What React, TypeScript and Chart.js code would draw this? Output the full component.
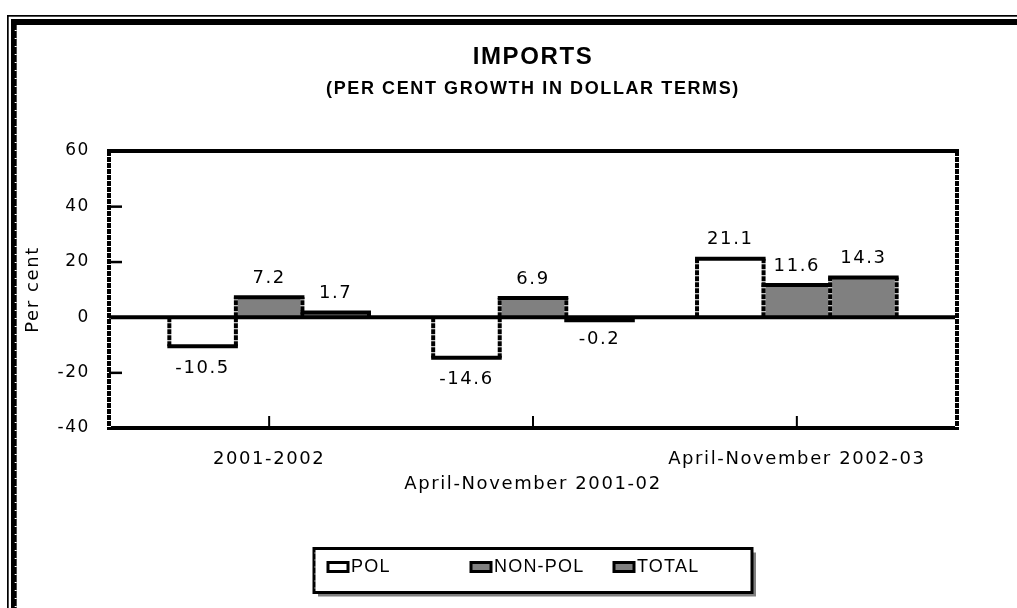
import React, { useEffect, useRef } from 'react';
import { Chart, registerables } from 'chart.js';

Chart.register(...registerables);

// ---- data ----
const categories = ['2001-2002', 'April-November 2001-02', 'April-November 2002-03'];
const seriesLabels = ['POL', 'NON-POL', 'TOTAL'];
const polValues = [-10.5, -14.6, 21.1];
const nonPolValues = [7.2, 6.9, 11.6];
const totalValues = [1.7, -0.2, 14.3];
const yTickValues = [-40, -20, 0, 20, 40, 60];

const SPACING = '1.6px';
const NUM_FONT = "'DejaVu Sans', Verdana, sans-serif";
const TITLE_FONT = "'Liberation Sans', Arial, sans-serif";
const GRAY = '#808080';

const toPoints = (vals: number[]) => vals.map((v, i) => ({ x: i, y: v }));

const decorPlugin: any = {
  id: 'decor',
  beforeUpdate(chart: any) {
    chart.ctx.letterSpacing = SPACING;
  },
  beforeDraw(chart: any) {
    const ctx = chart.ctx;
    ctx.letterSpacing = SPACING;
    ctx.save();
    ctx.fillStyle = '#fff';
    ctx.fillRect(0, 0, chart.width, chart.height);
    ctx.restore();
  },
  afterDatasetsDraw(chart: any) {
    const ctx = chart.ctx;
    const a = chart.chartArea;
    const xs = chart.scales.x;
    const ys = chart.scales.y;
    ctx.save();
    const vline = (x: number, y0: number, y1: number, w: number) => {
      ctx.lineWidth = w;
      ctx.setLineDash([]);
      ctx.strokeStyle = '#fff';
      ctx.beginPath(); ctx.moveTo(x, y0); ctx.lineTo(x, y1); ctx.stroke();
      ctx.setLineDash([5, 1]);
      ctx.strokeStyle = '#000';
      ctx.beginPath(); ctx.moveTo(x, y0); ctx.lineTo(x, y1); ctx.stroke();
      ctx.setLineDash([]);
    };
    const els: any[] = [];
    chart.data.datasets.forEach((ds: any, di: number) => {
      const meta = chart.getDatasetMeta(di);
      meta.data.forEach((el: any, j: number) => {
        const p = el.getProps(['x', 'y', 'base', 'width'], true);
        els.push({ ...p, value: ds.data[j].y });
      });
    });
    // vertical sides first
    els.forEach((p) => {
      const l = p.x - p.width / 2;
      const r = p.x + p.width / 2;
      vline(l, p.base, p.y, 4);
      vline(r, p.base, p.y, 4);
    });
    // horizontal ends
    ctx.strokeStyle = '#000';
    ctx.lineWidth = 4;
    els.forEach((p) => {
      const l = p.x - p.width / 2;
      const r = p.x + p.width / 2;
      const yy = p.value < 0 && p.y - p.base < 3 ? p.base + 3 : p.y;
      ctx.beginPath(); ctx.moveTo(l - 2, yy); ctx.lineTo(r + 2, yy); ctx.stroke();
    });
    // zero line
    const y0 = ys.getPixelForValue(0);
    ctx.beginPath(); ctx.moveTo(a.left, y0); ctx.lineTo(a.right, y0); ctx.stroke();
    // plot frame
    ctx.beginPath(); ctx.moveTo(a.left - 2, a.top); ctx.lineTo(a.right + 2, a.top); ctx.stroke();
    ctx.beginPath(); ctx.moveTo(a.left - 2, a.bottom); ctx.lineTo(a.right + 2, a.bottom); ctx.stroke();
    vline(a.left, a.top, a.bottom, 4);
    vline(a.right, a.top, a.bottom, 4);
    // inward tick marks
    ctx.fillStyle = '#000';
    yTickValues.forEach((v) => {
      const py = ys.getPixelForValue(v);
      ctx.fillRect(a.left, py - 1, 13, 2.5);
    });
    categories.forEach((_, i) => {
      const px = xs.getPixelForValue(i);
      ctx.fillRect(px - 1, a.bottom - 12, 2, 12);
    });
    // data labels
    ctx.letterSpacing = SPACING;
    ctx.font = `18px ${NUM_FONT}`;
    ctx.textAlign = 'center';
    ctx.textBaseline = 'middle';
    ctx.fillStyle = '#000';
    els.forEach((p) => {
      const ty = p.value >= 0 ? p.y - 19 : p.y + 22;
      ctx.fillText(p.value.toFixed(1), p.x, ty);
    });
    ctx.restore();
  },
  afterDraw(chart: any) {
    const ctx = chart.ctx;
    const a = chart.chartArea;
    const W = chart.width;
    const H = chart.height;
    ctx.save();
    // outer frame (top & left)
    ctx.fillStyle = '#000';
    ctx.fillRect(7, 15, W - 7, 1.7);
    ctx.fillRect(7, 15, 1.7, H - 15);
    ctx.fillRect(11, 19, W - 11, 6);
    ctx.fillRect(11, 19, 5.7, H - 19);
    ctx.fillStyle = '#fff';
    for (let yy = 30; yy < H; yy += 8) ctx.fillRect(14.7, yy, 2, 1);

    // legend
    const cx = (a.left + a.right) / 2;
    const bw = 438;
    const bh = 44;
    const bl = cx - 219;
    const bt = a.bottom + 120.5;
    ctx.fillStyle = GRAY;
    ctx.fillRect(bl + 4, bt + 4, bw, bh);
    ctx.fillStyle = '#fff';
    ctx.fillRect(bl, bt, bw, bh);
    ctx.strokeStyle = '#000';
    ctx.lineWidth = 3;
    ctx.strokeRect(bl, bt, bw, bh);
    ctx.strokeStyle = '#fff';
    ctx.lineWidth = 1;
    ctx.setLineDash([1, 6]);
    ctx.beginPath(); ctx.moveTo(bl + 1, bt + 4); ctx.lineTo(bl + 1, bt + bh - 2); ctx.stroke();
    ctx.setLineDash([]);

    ctx.letterSpacing = '1.2px';
    ctx.font = `18px ${TITLE_FONT}`;
    ctx.textAlign = 'left';
    ctx.textBaseline = 'middle';
    const cy = bt + 18.5;
    chart.data.datasets.forEach((ds: any, i: number) => {
      const sx = bl + 14 + i * 143;
      ctx.fillStyle = ds.backgroundColor;
      ctx.fillRect(sx, cy - 4.5, 20, 9);
      ctx.strokeStyle = '#000';
      ctx.lineWidth = 3;
      ctx.strokeRect(sx, cy - 4.5, 20, 9);
      ctx.fillStyle = '#000';
      ctx.fillText(ds.label, sx + 23, cy + 0.5);
    });
    ctx.restore();
  },
};

export default function App() {
  const ref = useRef<HTMLCanvasElement>(null);
  useEffect(() => {
    document.body.style.margin = '0';
    const canvas = ref.current;
    if (!canvas) return;
    const chart = new Chart(canvas, {
      type: 'bar',
      data: {
        datasets: [
          { label: seriesLabels[0], data: toPoints(polValues), backgroundColor: '#ffffff', borderWidth: 0 },
          { label: seriesLabels[1], data: toPoints(nonPolValues), backgroundColor: GRAY, borderWidth: 0 },
          { label: seriesLabels[2], data: toPoints(totalValues), backgroundColor: GRAY, borderWidth: 0 },
        ] as any,
      },
      options: {
        responsive: false,
        animation: false,
        devicePixelRatio: 1,
        categoryPercentage: 0.7566,
        barPercentage: 1,
        layout: { padding: { left: 20, right: 60, top: 26, bottom: 0 } },
        plugins: {
          legend: { display: false },
          tooltip: { enabled: false },
          title: {
            display: true,
            text: 'IMPORTS',
            fullSize: false,
            color: '#000',
            font: { family: TITLE_FONT, size: 24, weight: 'bold', lineHeight: 1.2 },
            padding: { top: 17, bottom: 3 },
          },
          subtitle: {
            display: true,
            text: '(PER CENT GROWTH IN DOLLAR TERMS)',
            fullSize: false,
            color: '#000',
            font: { family: TITLE_FONT, size: 18, weight: 'bold', lineHeight: 1.2 },
            padding: { top: 3.4, bottom: 51.2 },
          },
        },
        scales: {
          x: {
            type: 'linear',
            offset: false,
            min: -0.607,
            max: 2.607,
            grid: { display: false, drawTicks: false },
            border: { display: false },
            afterBuildTicks: (s: any) => {
              s.ticks = categories.map((_, i) => ({ value: i }));
            },
            afterFit: (s: any) => {
              s.height = 180;
            },
            ticks: {
              autoSkip: false,
              maxRotation: 0,
              minRotation: 0,
              padding: 18.5,
              color: '#000',
              font: { family: NUM_FONT, size: 18, lineHeight: 25 / 18 },
              callback: (_v: any, i: number) => (i % 2 === 1 ? ['', categories[i]] : categories[i]),
            },
          },
          y: {
            min: -40,
            max: 60,
            grid: { display: false, drawTicks: false },
            border: { display: false },
            afterFit: (s: any) => {
              s.width = 89;
            },
            ticks: {
              stepSize: 20,
              padding: 19,
              color: '#000',
              font: { family: NUM_FONT, size: 17 },
            },
            title: {
              display: true,
              text: 'Per cent',
              color: '#000',
              font: { family: NUM_FONT, size: 18 },
              padding: { top: 3, bottom: 0 },
            },
          },
        },
      } as any,
      plugins: [decorPlugin],
    });
    return () => chart.destroy();
  }, []);
  return (
    <div style={{ width: 1017, height: 608 }}>
      <canvas ref={ref} width={1017} height={608} style={{ display: 'block', width: 1017, height: 608 }} />
    </div>
  );
}
